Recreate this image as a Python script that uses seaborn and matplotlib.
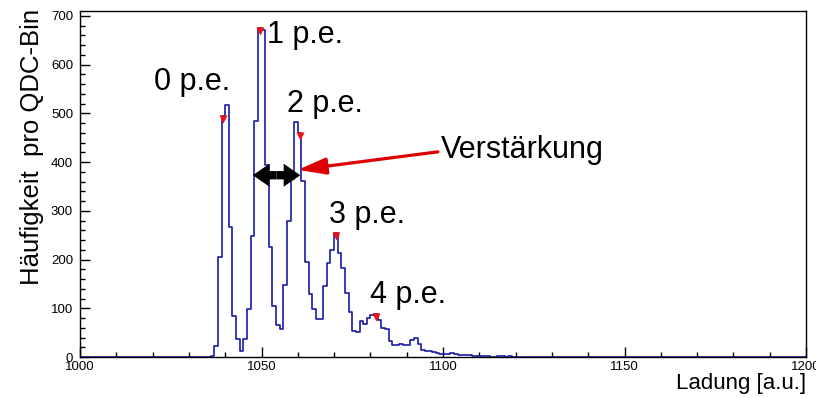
import numpy as np
import pandas as pd
import matplotlib
matplotlib.use("Agg")
import matplotlib.pyplot as plt
import seaborn as sns
from matplotlib.ticker import MultipleLocator

# ---- data (counts per QDC bin, 1 unit wide, starting at 1036) ----
bin_start = 1036
counts = [3, 22, 205, 495, 517, 267, 84, 36, 12, 37,
          98, 248, 485, 676, 670, 394, 226, 105, 65, 57,
          148, 280, 365, 483, 460, 362, 195, 129, 98, 77,
          78, 146, 192, 220, 255, 214, 182, 132, 93, 54,
          52, 74, 68, 80, 86, 89, 76, 60, 58, 32,
          24, 24, 26, 24, 24, 34, 38, 27, 14, 12,
          12, 10, 8, 7, 7, 7, 8, 6, 5, 5,
          4, 5, 3, 3, 2, 3, 2, 1, 1, 2,
          2, 1, 2, 1, 0]
peak_bins = [1039, 1049, 1060, 1070, 1081]
peak_labels = ["0 p.e.", "1 p.e.", "2 p.e.", "3 p.e.", "4 p.e."]
label_pos_x = [1030.9, 1062.0, 1067.5, 1079.0, 1090.4]
label_pos_y = [564, 661, 519, 291, 127]
x_range = (1000, 1200)
y_max = 710
x_label = "Ladung [a.u.]"
y_label = "Häufigkeit  pro QDC-Bin"
gain_label = "Verstärkung"

sns.set_theme(style="white")
plt.rcParams['font.family'] = ['Liberation Sans', 'DejaVu Sans']
plt.rcParams['text.color'] = 'black'
plt.rcParams['axes.labelcolor'] = 'black'
plt.rcParams['xtick.color'] = 'black'
plt.rcParams['ytick.color'] = 'black'

W, H = 816, 398
fig = plt.figure(figsize=(W / 100, H / 100), dpi=100)
ax = fig.add_axes([80 / W, (H - 357) / H, 726 / W, 346 / H])

df = pd.DataFrame({
    "charge": np.arange(bin_start, bin_start + len(counts)) + 0.5,
    "counts": np.array(counts, dtype=float),
})
sns.histplot(data=df, x="charge", weights="counts",
             binwidth=1, binrange=x_range,
             element="step", fill=False, color="#1a1aa8",
             linewidth=1.2, ax=ax)

# peak markers
pk = pd.DataFrame({
    "x": np.array(peak_bins) + 0.5,
    "y": [counts[b - bin_start] for b in peak_bins],
})
ax.scatter(pk["x"], pk["y"] - 7, marker="v", s=34, color="#ee1111",
           linewidths=0, zorder=5)

for lab, lx, ly in zip(peak_labels, label_pos_x, label_pos_y):
    ax.text(lx, ly, lab, fontsize=22, ha="center", va="center")

# gain double arrow: two filled arrows back to back
mid = 1054.15
for end in (1047.6, 1060.7):
    ax.annotate("", xy=(end, 373), xytext=(mid, 373),
                arrowprops=dict(arrowstyle="simple,head_length=1.2,head_width=1.65,tail_width=0.6",
                                lw=0, color="black", shrinkA=0, shrinkB=0,
                                mutation_scale=10), zorder=6)
# red arrow with label
ax.annotate("", xy=(1060.0, 384), xytext=(1098.6, 421),
            arrowprops=dict(arrowstyle="-|>,head_length=0.95,head_width=0.28",
                            lw=2.3, color="#dd0000", shrinkA=0, shrinkB=0,
                            mutation_scale=18), zorder=6)
ax.text(1099.3, 425, gain_label, fontsize=22, ha="left", va="center")

ax.set_xlim(*x_range)
ax.set_ylim(0, y_max)
ax.set_xlabel("")
ax.set_ylabel("")
ax.xaxis.set_major_locator(MultipleLocator(50))
ax.xaxis.set_minor_locator(MultipleLocator(10))
ax.yaxis.set_major_locator(MultipleLocator(100))
ax.yaxis.set_minor_locator(MultipleLocator(20))
ax.tick_params(which="both", direction="in", top=False, right=False,
               bottom=True, left=True, labelsize=9.5, width=1, color="black")
ax.tick_params(which="major", length=7, pad=3)
ax.tick_params(which="minor", length=3.5)
ax.tick_params(axis="y", which="major", pad=5)
for s in ax.spines.values():
    s.set_color("black")
    s.set_linewidth(1.0)

fig.text(32 / W, 1 - 147 / H, y_label, rotation=90, fontsize=18.5,
         ha="center", va="center")
fig.text(806 / W, 1 - 383 / H, x_label, fontsize=16, ha="right", va="center")

fig.savefig("out.png", dpi=100)
